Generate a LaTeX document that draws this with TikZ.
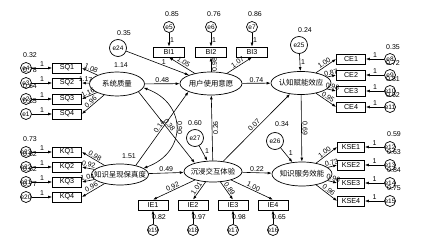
\documentclass[tikz,border=0pt]{standalone}
\usepackage{fontspec}
\setmainfont{Liberation Sans}
\newfontfamily\cjkfont{Noto Sans CJK SC}
\usetikzlibrary{arrows.meta, shapes.geometric}
\tikzset{
    arrow/.style={ -{Latex[length=4pt, width=2.8pt]}, line width=0.6pt },
    covar/.style={ {Latex[length=4pt, width=2.8pt]}-{Latex[length=4pt, width=2.8pt]}, line width=0.6pt },
    % Latent variable
    latent/.style={ ellipse, draw, line width=0.7pt, inner xsep=-8pt, inner ysep=0pt, minimum width=58pt, minimum height=23pt, font=\cjkfont\fontsize{7.4}{8}\selectfont },
    % Observed variable
    obsbox/.style={ rectangle, draw, line width=0.7pt, minimum width=29pt, minimum height=10pt, inner sep=0pt, font=\fontsize{7.2}{8}\selectfont },
    % Error terms
    errcirc/.style={ circle, draw, fill=white, line width=0.7pt, minimum size=11pt, inner sep=-2.5pt, font=\fontsize{6.5}{7}\selectfont },
    distcirc/.style={ errcirc, minimum size=17pt },
    est/.style={ inner sep=0.8pt, font=\fontsize{7}{7}\selectfont },
}

\begin{document}
\begin{tikzpicture}[x=1pt, y=-1pt]
    \useasboundingbox (0,0) rectangle (442,240);

    % Latent variables
    \node[latent, minimum width=55pt, minimum height=24pt] (sq) at (117,84) {系统质量};
    \node[latent, minimum width=62pt] (bi) at (211,83.5) {用户使用意愿};
    \node[latent, minimum width=60pt] (ce) at (301,83) {认知赋能效应};
    \node[latent, minimum width=57pt, minimum height=21pt] (kq) at (120,174.5) {知识呈现保真度};
    \node[latent, minimum width=58pt, minimum height=21pt] (ie) at (213,171.5) {沉浸交互体验};
    \node[latent, minimum width=60pt, minimum height=24pt] (kse) at (302,174) {知识服务效能};
    \node[est] (vsq) at (121,65) {1.14};
    \node[est] (vkq) at (129,156) {1.51};

    % System quality
    \foreach \i/\y/\ev/\vv/\lv in {1/68/4/0.32/1.08, 2/83/3/0.78/1.17, 3/99/2/0.64/1.16, 4/114/1/0.85/0.96} {
        \node[est] (v\ev) at (30,\y-13) {\vv};
        \node[obsbox] (sq\i) at (67,\y) {SQ\i};
        \node[errcirc] (e\ev) at (26,\y) {e\ev};
        \draw[arrow] (e\ev) -- node[est, above] {1} (sq\i);
        \draw[arrow] (sq) -- node[est, sloped, above] {\lv} (sq\i.east);
    }

    % Knowledge presentation
    \foreach \i/\y/\ev/\vv/\lv in {1/152/23/0.73/0.98, 2/167/22/0.62/0.92, 3/182/21/0.62/1.04, 4/197/20/0.77/0.96} {
        \node[est] (v\ev) at (30,\y-13) {\vv};
        \node[obsbox] (kq\i) at (67,\y) {KQ\i};
        \node[errcirc] (e\ev) at (26,\y) {e\ev};
        \draw[arrow] (e\ev) -- node[est, above] {1} (kq\i);
        \draw[arrow] (kq) -- node[est, sloped, above] {\lv} (kq\i.east);
    }

    % Intention to use
    \foreach \i/\x/\ev/\vv/\lv/\side in {1/169/5/0.85/1.05/above, 2/211/6/0.76/0.98/below, 3/252/7/0.86/1.07/above} {
        \node[est] (v\ev) at (\x+3,14) {\vv};
        \node[obsbox, minimum width=31pt] (bi\i) at (\x,52) {BI\i};
        \node[errcirc] (e\ev) at (\x,27) {e\ev};
        \draw[arrow] (e\ev) -- node[est, right] {1} (bi\i);
        \draw[arrow] (bi) -- node[est, sloped, \side] {\lv} (bi\i.south);
    }

    % Cognitive empowerment
    \foreach \i/\y/\ev/\vv/\lv in {1/59/8/0.35/1.00, 2/75/9/0.72/0.87, 3/91/10/0.81/0.98, 4/107/11/0.62/0.95} {
        \node[est] (v\ev) at (393,\y-12) {\vv};
        \node[obsbox] (ce\i) at (351,\y) {CE\i};
        \node[errcirc] (e\ev) at (390,\y) {e\ev};
        \draw[arrow] (e\ev) -- node[est, above] {1} (ce\i);
        \draw[arrow] (ce) -- node[est, sloped, above] {\lv} (ce\i.west);
    }

    % Knowledge service efficacy
    \foreach \i/\y/\ev/\vv/\lv in {1/147/12/0.59/1.00, 2/165/13/0.63/0.73, 3/183/14/0.84/0.96, 4/201/15/0.75/0.96} {
        \node[est] (v\ev) at (394,\y-13) {\vv};
        \node[obsbox, minimum width=27pt] (kse\i) at (351,\y) {KSE\i};
        \node[errcirc] (e\ev) at (390,\y) {e\ev};
        \draw[arrow] (e\ev) -- node[est, above] {1} (kse\i);
        \draw[arrow] (kse) -- node[est, sloped, above] {\lv} (kse\i.west);
    }

    % Immersive interaction
    \foreach \i/\x/\ev/\vv/\lv in {1/153/19/0.82/0.92, 2/193/18/0.97/1.01, 3/233/17/0.98/0.89, 4/273/16/0.65/1.00} {
        \node[est] (v\ev) at (\x+6,217) {\vv};
        \node[obsbox, minimum width=30pt] (ie\i) at (\x,205) {IE\i};
        \node[errcirc] (e\ev) at (\x,230) {e\ev};
        \draw[arrow] (e\ev) -- (ie\i);
        \draw[arrow] (ie) -- node[est, sloped, above] {\lv} (ie\i.north);
    }

    % Disturbances
    \node[est] (v24) at (124,33) {0.35};
    \node[distcirc] (e24) at (118,48) {e24};
    \node[est] (v25) at (305,30) {0.24};
    \node[distcirc] (e25) at (299,45) {e25};
    \node[est] (v26) at (282,124) {0.34};
    \node[distcirc] (e26) at (275,141) {e26};
    \node[est] (v27) at (195,123) {0.60};
    \node[distcirc] (e27) at (195,138) {e27};
    \draw[arrow] (e24) -- node[est, pos=0.6, above] {1} (bi);
    \draw[arrow] (e25) -- node[est, right] {1} (ce);
    \draw[arrow] (e26) -- node[est, pos=0.6, above right] {1} (kse);
    \draw[arrow] (e27) -- node[est, pos=0.6, above right] {1} (ie);

    % Structural paths
    \draw[arrow] (sq) -- node[est, above] {0.48} (bi);
    \draw[arrow] (bi) -- node[est, above] {0.74} (ce);
    \draw[arrow] (kq) -- node[est, above] {0.49} (ie);
    \draw[arrow] (ie) -- node[est, above] {0.22} (kse);
    \draw[arrow] (ce) -- node[est, sloped, above] {0.69} (kse);
    \draw[arrow] (ie) -- node[est, sloped, above] {0.07} (ce);
    \draw[arrow] (ie) -- node[est, rotate=90, anchor=north] {0.26} (bi);
    \draw[arrow] (sq.-20) -- node[est, sloped, above] {0.38} (ie.155);
    \draw[arrow] (kq.30) -- node[est, sloped, above] {0.14} (bi.200);
    \draw[covar] (sq.-8) to[out=-20, in=20, looseness=1.48] node[est, rotate=-90, anchor=south] {0.90} (kq.15);
\end{tikzpicture}
\end{document}
